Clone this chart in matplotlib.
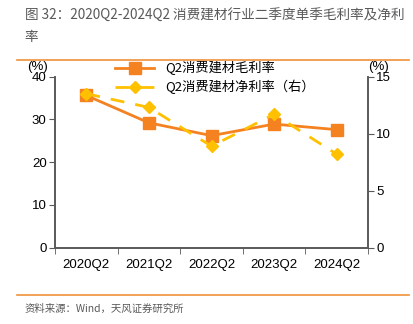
import matplotlib
matplotlib.use("Agg")
import matplotlib.pyplot as plt
import numpy as np

plt.rcParams["font.family"] = ["Liberation Sans", "Noto Sans CJK SC", "DejaVu Sans"]

quarters = ["2020Q2", "2021Q2", "2022Q2", "2023Q2", "2024Q2"]
gross_margin = [35.6, 29.2, 26.2, 28.9, 27.6]
net_margin = [13.5, 12.3, 8.9, 11.7, 8.2]

ORANGE = "#F58220"
YELLOW = "#FFC000"
GRAY = "#595959"
CJK = ["Noto Sans CJK SC", "DejaVu Sans"]


def main() -> None:
    fig = plt.figure(figsize=(4.14, 3.24), dpi=100)
    ax = fig.add_axes([0.1329, 0.2355, 0.756, 0.528])
    ax2 = ax.twinx()

    x = np.arange(len(quarters))
    l1, = ax.plot(x, gross_margin, color=ORANGE, lw=2, marker="s", ms=8,
                  label="Q2消费建材毛利率", zorder=3)
    l2, = ax2.plot(x, net_margin, color=YELLOW, lw=2, ls=(0, (5, 4)), marker="D",
                   ms=6.5, label="Q2消费建材净利率（右）", zorder=2)

    ax.set_xlim(-0.5, len(quarters) - 0.5)
    ax.set_ylim(0, 40)
    ax.set_yticks([0, 10, 20, 30, 40])
    ax2.set_ylim(0, 15)
    ax2.set_yticks([0, 5, 10, 15])
    ax.set_xticks(x)
    ax.set_xticklabels(quarters)
    ax.set_xticks(np.arange(len(quarters) + 1) - 0.5, minor=True)
    ax.tick_params(axis="x", which="major", length=0, pad=8, labelsize=9.5)
    ax.tick_params(axis="x", which="minor", length=4, color=GRAY)
    ax.tick_params(axis="y", length=4, color=GRAY, labelsize=9.5, pad=2)
    ax2.tick_params(axis="y", length=4, color=GRAY, labelsize=9.5, pad=2)

    for a in (ax, ax2):
        a.spines["top"].set_visible(False)
        for s in ("left", "right", "bottom"):
            a.spines[s].set_color(GRAY)
            a.spines[s].set_linewidth(1.2)

    ax.text(-0.09, 1.02, "(%)", transform=ax.transAxes, fontsize=9.5, ha="left", va="bottom")
    ax2.text(1.0, 1.02, "(%)", transform=ax2.transAxes, fontsize=9.5, ha="left", va="bottom")

    ax2.legend(handles=[l1, l2], loc="upper center", bbox_to_anchor=(0.51, 1.16),
               frameon=False, handlelength=3.0, labelspacing=0.35,
               prop={"family": CJK, "size": 9.5})

    fig.text(0.06, 0.955, "图 32：2020Q2-2024Q2 消费建材行业二季度单季毛利率及净利",
             fontsize=9.8, color=GRAY, family=CJK, va="center")
    fig.text(0.06, 0.885, "率", fontsize=9.8, color=GRAY, family=CJK, va="center")
    fig.add_artist(plt.Line2D([0.04, 0.988], [0.814, 0.814], color="#F0913A", lw=1.2))
    fig.add_artist(plt.Line2D([0.04, 0.988], [0.09, 0.09], color="#F0913A", lw=1.2))
    fig.text(0.06, 0.048, "资料来源：Wind，天风证券研究所", fontsize=7.5, color=GRAY,
             family=CJK, va="center")

    fig.savefig("out.png", dpi=100)


if __name__ == "__main__":
    main()
